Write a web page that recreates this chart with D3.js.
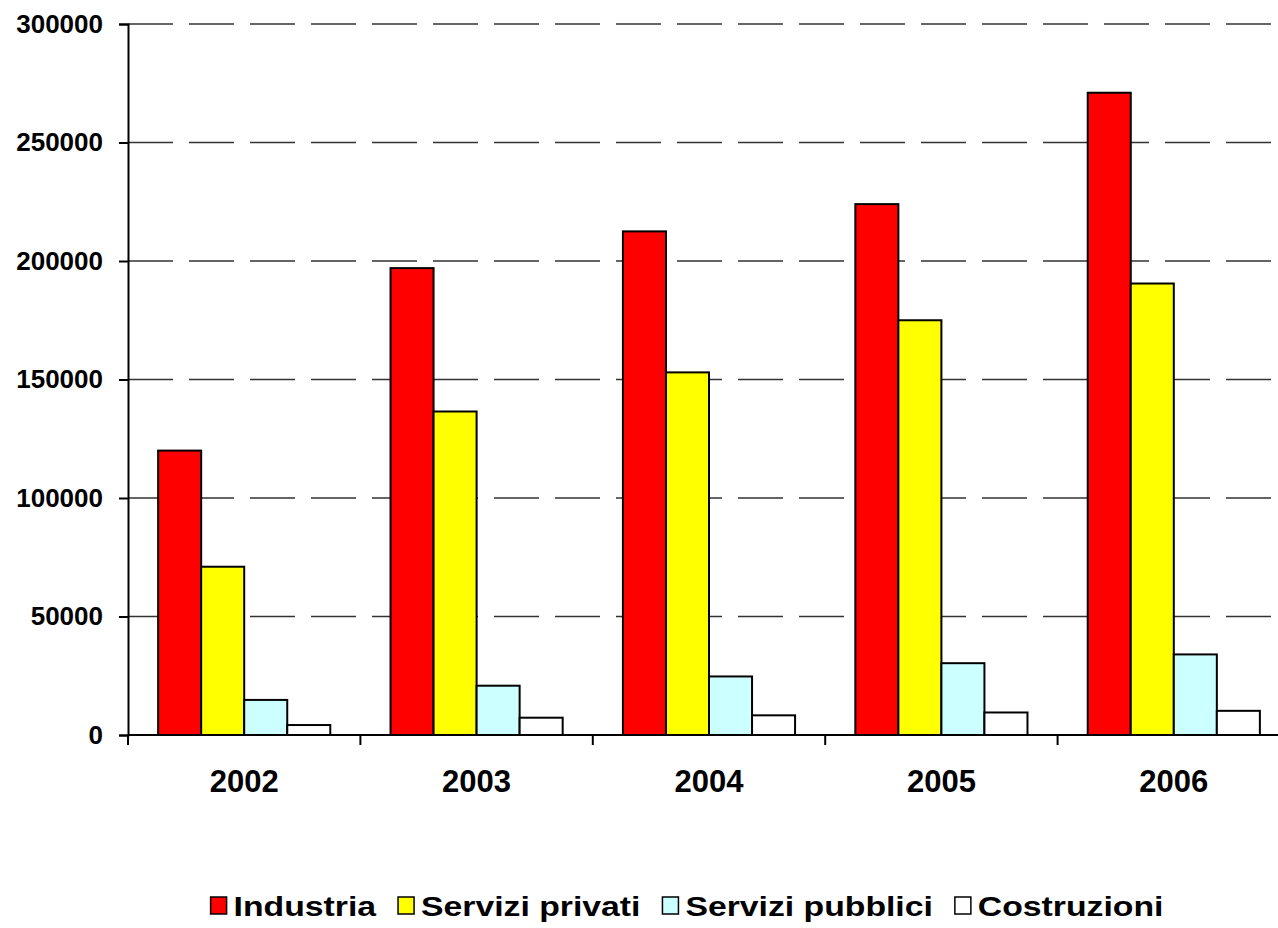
<!DOCTYPE html>
<html>
<head>
<meta charset="utf-8">
<script src="https://cdn.jsdelivr.net/npm/d3@7"></script>
<style>
  html, body { margin: 0; padding: 0; background: #fff; }
  svg { display: block; font-family: "Liberation Sans", Arial, sans-serif; font-weight: bold; }
</style>
</head>
<body>
<svg id="chart" width="1278" height="928"></svg>
<script>
// Years on the category axis
const years = ["2002", "2003", "2004", "2005", "2006"];

// One array per sector
const industria = [120000, 197000, 212500, 224000, 271000];
const serviziPrivati = [71000, 136500, 153000, 175000, 190500];
const serviziPubblici = [14800, 20800, 24700, 30300, 34000];
const costruzioni = [4200, 7300, 8300, 9500, 10200];

const seriesNames = ["Industria", "Servizi privati", "Servizi pubblici", "Costruzioni"];
const seriesColors = ["#FF0000", "#FFFF00", "#CCFFFF", "#FFFFFF"];
const yTicks = [0, 50000, 100000, 150000, 200000, 250000, 300000];

const seriesValues = [industria, serviziPrivati, serviziPubblici, costruzioni];

const svg = d3.select("#chart");
const plotLeft = 128, plotTop = 24, plotBottom = 735, plotRight = 1290;

const x0 = d3.scaleBand().domain(years).range([plotLeft, plotRight]).padding(0);
const x1 = d3.scaleBand().domain(seriesNames).range([0, x0.bandwidth()])
  .paddingInner(0).paddingOuter(0.7);
const y = d3.scaleLinear().domain([0, 300000]).range([plotBottom, plotTop]);

// Dashed horizontal gridlines
svg.append("g").selectAll("line")
  .data(yTicks.filter(d => d > 0))
  .join("line")
  .attr("x1", plotLeft).attr("x2", 1278)
  .attr("y1", d => y(d)).attr("y2", d => y(d))
  .attr("stroke", "#333").attr("stroke-width", 1.4)
  .attr("stroke-dasharray", "45 16");

// Bars
const groups = svg.append("g").selectAll("g")
  .data(years)
  .join("g")
  .attr("transform", d => `translate(${x0(d)},0)`);

groups.selectAll("rect")
  .data((yr, i) => seriesNames.map((s, k) => ({ s, k, v: seriesValues[k][i] })))
  .join("rect")
  .attr("x", d => x1(d.s))
  .attr("width", x1.bandwidth())
  .attr("y", d => y(d.v))
  .attr("height", d => y(0) - y(d.v))
  .attr("fill", d => seriesColors[d.k])
  .attr("stroke", "#000")
  .attr("stroke-width", 2);

// Y axis
const yAxis = d3.axisLeft(y).tickValues(yTicks).tickSize(9).tickPadding(16)
  .tickFormat(d3.format("d"));
const gy = svg.append("g").attr("transform", `translate(${plotLeft},0)`).call(yAxis);
gy.select(".domain").attr("stroke", "#000").attr("stroke-width", 2);
gy.selectAll(".tick line").attr("stroke", "#000").attr("stroke-width", 2);
gy.selectAll(".tick text").attr("font-size", 26).attr("font-weight", "bold")
  .attr("font-family", "Liberation Sans, Arial, sans-serif").attr("fill", "#000");

// X axis baseline and category separators
svg.append("line")
  .attr("x1", plotLeft).attr("x2", 1278)
  .attr("y1", plotBottom).attr("y2", plotBottom)
  .attr("stroke", "#000").attr("stroke-width", 2);

const boundaries = years.map(d => x0(d)).concat([x0(years[years.length - 1]) + x0.bandwidth()]);
svg.append("g").selectAll("line")
  .data(boundaries)
  .join("line")
  .attr("x1", d => d).attr("x2", d => d)
  .attr("y1", plotBottom).attr("y2", plotBottom + 10)
  .attr("stroke", "#000").attr("stroke-width", 2);

svg.append("g").selectAll("text")
  .data(years)
  .join("text")
  .attr("x", d => x0(d) + x0.bandwidth() / 2)
  .attr("y", 792)
  .attr("text-anchor", "middle")
  .attr("font-size", 31)
  .attr("fill", "#000")
  .text(d => d);

// Legend (wide lettering)
const legendStretch = 1.25;
const legend = svg.append("g");
const items = legend.selectAll("g")
  .data(seriesNames)
  .join("g");
items.append("rect")
  .attr("width", 16).attr("height", 17)
  .attr("y", 897)
  .attr("fill", (d, i) => seriesColors[i])
  .attr("stroke", "#000").attr("stroke-width", 1.5);
items.append("text")
  .attr("transform", `translate(23,916) scale(${legendStretch},1)`)
  .attr("font-size", 27)
  .attr("fill", "#000")
  .text(d => d);

let cursor = 0;
const offsets = [];
items.each(function () {
  const w = d3.select(this).select("text").node().getComputedTextLength() * legendStretch;
  offsets.push(cursor);
  cursor += 23 + w + 22;
});
const totalW = cursor - 22;
const startX = 687 - totalW / 2;
items.attr("transform", (d, i) => `translate(${startX + offsets[i]},0)`);
</script>
</body>
</html>
